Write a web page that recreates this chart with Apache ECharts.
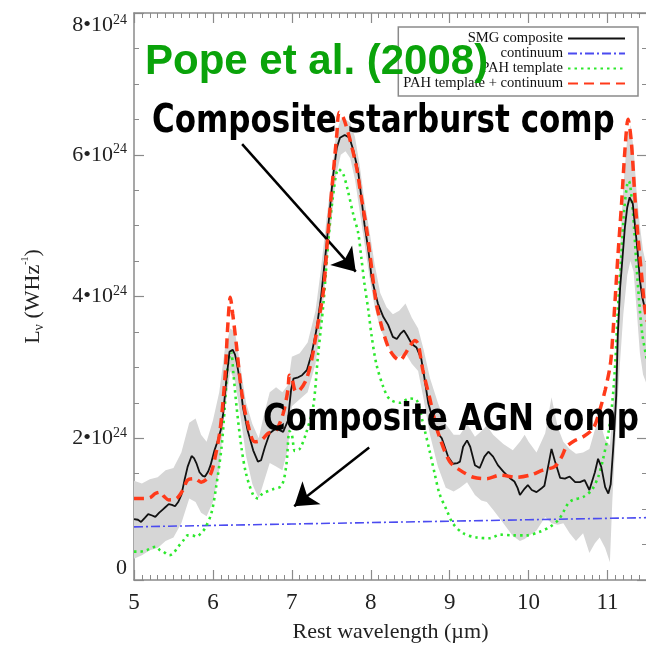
<!DOCTYPE html>
<html>
<head>
<meta charset="utf-8">
<script src="https://cdn.jsdelivr.net/npm/echarts@6/dist/echarts.min.js"></script>
<style>
  html, body { margin: 0; padding: 0; background: #fff; }
  #chart { width: 646px; height: 648px; }
</style>
</head>
<body>
<div id="chart"></div>
<script>
// Rest wavelength in µm; luminosity density L_nu in units of 10^24 W/Hz.

// SMG composite spectrum
const smgWave = [5.00, 5.05, 5.09, 5.14, 5.18, 5.23, 5.27, 5.32, 5.36, 5.40, 5.44, 5.48, 5.52, 5.56, 5.60, 5.64, 5.68, 5.73, 5.76, 5.79,
  5.83, 5.87, 5.90, 5.94, 5.97, 6.02, 6.06, 6.10, 6.13, 6.17, 6.21, 6.25, 6.28, 6.30, 6.34, 6.38, 6.44, 6.51, 6.57, 6.61,
  6.66, 6.72, 6.80, 6.89, 6.95, 6.99, 7.02, 7.08, 7.13, 7.19, 7.25, 7.31, 7.37, 7.44, 7.48, 7.52, 7.57, 7.61, 7.67, 7.73,
  7.78, 7.84, 7.88, 7.92, 7.97, 8.01, 8.05, 8.09, 8.16, 8.22, 8.28, 8.33, 8.38, 8.42, 8.46, 8.52, 8.58, 8.64, 8.68, 8.73,
  8.79, 8.85, 8.90, 8.98, 9.04, 9.10, 9.13, 9.17, 9.22, 9.26, 9.32, 9.38, 9.44, 9.49, 9.55, 9.61, 9.68, 9.76, 9.82, 9.86,
  9.89, 9.95, 9.99, 10.04, 10.10, 10.16, 10.20, 10.23, 10.29, 10.33, 10.40, 10.46, 10.52, 10.59, 10.65, 10.71, 10.77, 10.84, 10.88, 10.92,
  10.97, 11.01, 11.04, 11.07, 11.09, 11.11, 11.13, 11.16, 11.19, 11.22, 11.25, 11.28, 11.32, 11.35, 11.38, 11.41, 11.44, 11.47, 11.50];
const smgLum = [0.86, 0.85, 0.82, 0.88, 0.93, 0.91, 0.89, 0.95, 0.99, 1.03, 1.07, 1.06, 1.04, 1.10, 1.20, 1.41, 1.60, 1.75, 1.72, 1.65,
  1.52, 1.47, 1.46, 1.53, 1.62, 1.83, 1.96, 2.12, 2.35, 2.82, 3.22, 3.25, 3.18, 3.08, 2.82, 2.44, 2.11, 1.83, 1.67, 1.69,
  1.88, 2.07, 2.14, 2.09, 2.25, 2.68, 2.84, 2.86, 2.89, 2.96, 3.19, 3.52, 3.99, 4.74, 5.21, 5.68, 6.10, 6.24, 6.28, 6.24,
  6.06, 5.77, 5.40, 5.02, 4.65, 4.27, 4.08, 3.90, 3.71, 3.60, 3.43, 3.40, 3.48, 3.52, 3.45, 3.33, 3.28, 3.12, 2.85, 2.49,
  2.25, 2.07, 2.00, 1.74, 1.64, 1.65, 1.67, 1.88, 1.97, 1.88, 1.62, 1.58, 1.74, 1.81, 1.74, 1.62, 1.53, 1.44, 1.39, 1.30,
  1.20, 1.29, 1.34, 1.27, 1.24, 1.29, 1.33, 1.50, 1.85, 1.69, 1.44, 1.43, 1.46, 1.38, 1.38, 1.41, 1.27, 1.52, 1.71, 1.60,
  1.31, 1.22, 1.35, 1.83, 2.20, 2.60, 3.45, 4.13, 4.55, 4.98, 5.26, 5.40, 5.31, 4.98, 4.65, 4.23, 3.99, 3.85, 3.78];

// Uncertainty envelope of the composite
const bandWave = [5.00, 5.10, 5.20, 5.30, 5.40, 5.50, 5.60, 5.70, 5.78, 5.85, 5.92, 6.00, 6.08, 6.15, 6.22, 6.28, 6.35, 6.42, 6.50, 6.58,
  6.65, 6.72, 6.80, 6.88, 6.95, 7.00, 7.10, 7.20, 7.30, 7.37, 7.44, 7.50, 7.56, 7.62, 7.68, 7.74, 7.80, 7.86, 7.92, 7.98,
  8.05, 8.12, 8.20, 8.28, 8.36, 8.44, 8.52, 8.60, 8.67, 8.75, 8.85, 8.95, 9.05, 9.13, 9.22, 9.32, 9.40, 9.47, 9.55, 9.68,
  9.80, 9.89, 9.95, 10.00, 10.10, 10.21, 10.29, 10.37, 10.44, 10.52, 10.60, 10.69, 10.77, 10.84, 10.90, 10.97, 11.03, 11.06, 11.09, 11.12,
  11.16, 11.20, 11.25, 11.29, 11.33, 11.37, 11.41, 11.45, 11.50];
const bandLow = [0.30, 0.35, 0.42, 0.45, 0.55, 0.60, 0.80, 1.15, 1.10, 0.95, 0.90, 1.10, 1.55, 2.40, 2.95, 2.80, 2.30, 1.75, 1.35, 1.15,
  1.40, 1.65, 1.60, 1.55, 1.85, 2.45, 2.55, 2.65, 3.05, 3.60, 4.40, 5.05, 5.70, 6.00, 6.05, 5.95, 5.65, 5.20, 4.75, 4.30,
  3.85, 3.55, 3.35, 3.15, 3.15, 3.20, 3.05, 2.95, 2.55, 2.05, 1.60, 1.30, 1.25, 1.30, 1.38, 1.20, 1.12, 1.10, 0.99, 0.80,
  0.62, 0.55, 0.58, 0.62, 0.70, 0.89, 0.80, 0.78, 0.80, 0.66, 0.55, 0.66, 0.38, 0.52, 0.60, 0.45, 0.25, 1.10, 1.75, 2.40,
  3.10, 3.75, 4.30, 4.50, 4.35, 3.80, 3.20, 2.90, 2.75];
const bandHigh = [1.40, 1.36, 1.42, 1.45, 1.55, 1.58, 1.80, 2.22, 2.28, 2.05, 1.95, 2.25, 2.65, 3.25, 3.55, 3.50, 3.00, 2.50, 2.20, 2.00,
  2.35, 2.65, 2.72, 2.65, 2.75, 3.15, 3.20, 3.35, 3.80, 4.40, 5.10, 5.65, 6.30, 6.50, 6.50, 6.45, 6.25, 5.85, 5.35, 4.95,
  4.45, 4.05, 3.85, 3.75, 3.80, 3.90, 3.70, 3.55, 3.25, 2.85, 2.50, 2.20, 2.05, 2.05, 2.20, 2.02, 2.10, 2.18, 2.05, 1.92,
  1.83, 1.95, 2.05, 1.95, 1.80, 2.07, 2.58, 2.15, 1.95, 1.85, 1.78, 1.80, 1.85, 2.12, 2.25, 1.98, 1.90, 2.30, 2.80, 3.60,
  4.70, 5.55, 6.25, 6.42, 6.10, 5.45, 5.00, 4.65, 4.40];

// Continuum component
const contWave = [5.0, 6.0, 7.0, 8.0, 9.0, 10.0, 11.0, 11.5];
const contLum = [0.75, 0.77, 0.79, 0.81, 0.83, 0.85, 0.87, 0.88];

// PAH template
const pahWave = [5.00, 5.08, 5.16, 5.24, 5.28, 5.33, 5.37, 5.45, 5.50, 5.56, 5.62, 5.68, 5.74, 5.79, 5.85, 5.90, 5.98, 6.04, 6.11, 6.15,
  6.19, 6.23, 6.26, 6.30, 6.36, 6.42, 6.51, 6.57, 6.63, 6.76, 6.87, 6.93, 6.97, 7.00, 7.04, 7.10, 7.18, 7.27, 7.33, 7.40,
  7.46, 7.52, 7.59, 7.65, 7.71, 7.78, 7.84, 7.88, 7.92, 7.97, 8.01, 8.07, 8.16, 8.24, 8.37, 8.49, 8.58, 8.66, 8.75, 8.81,
  8.87, 8.96, 9.04, 9.17, 9.34, 9.51, 9.64, 9.80, 9.97, 10.14, 10.27, 10.38, 10.44, 10.50, 10.56, 10.69, 10.80, 10.88, 10.94, 11.01,
  11.06, 11.10, 11.13, 11.17, 11.21, 11.25, 11.27, 11.32, 11.36, 11.40, 11.44, 11.50];
const pahLum = [0.40, 0.40, 0.42, 0.46, 0.47, 0.42, 0.40, 0.35, 0.38, 0.47, 0.55, 0.63, 0.63, 0.61, 0.66, 0.73, 0.94, 1.31, 1.88, 2.44,
  3.05, 3.22, 2.91, 2.44, 1.88, 1.50, 1.20, 1.15, 1.22, 1.28, 1.33, 1.62, 2.10, 2.05, 1.82, 1.85, 2.07, 2.44, 3.15, 3.90,
  4.75, 5.40, 5.80, 5.73, 5.49, 5.15, 4.90, 4.55, 4.18, 3.80, 3.45, 3.05, 2.72, 2.55, 2.50, 2.56, 2.54, 2.22, 1.80, 1.50,
  1.22, 0.99, 0.80, 0.66, 0.60, 0.59, 0.64, 0.63, 0.63, 0.68, 0.75, 0.85, 0.96, 1.08, 1.13, 1.17, 1.27, 1.45, 1.69, 2.07,
  2.50, 3.10, 3.80, 4.51, 5.21, 5.59, 5.63, 5.21, 4.55, 3.94, 3.47, 3.10];

// PAH template + continuum
const sumWave = [5.00, 5.10, 5.20, 5.27, 5.33, 5.38, 5.44, 5.54, 5.62, 5.68, 5.77, 5.85, 5.93, 5.98, 6.02, 6.09, 6.15, 6.19, 6.22, 6.25,
  6.30, 6.36, 6.44, 6.53, 6.61, 6.70, 6.80, 6.89, 6.95, 6.97, 7.00, 7.05, 7.10, 7.18, 7.25, 7.32, 7.40, 7.46, 7.52, 7.57,
  7.60, 7.65, 7.73, 7.82, 7.88, 7.95, 8.01, 8.07, 8.14, 8.22, 8.30, 8.37, 8.43, 8.49, 8.56, 8.60, 8.66, 8.75, 8.81, 8.87,
  9.00, 9.13, 9.30, 9.47, 9.64, 9.85, 10.02, 10.18, 10.33, 10.42, 10.48, 10.59, 10.69, 10.82, 10.90, 10.97, 11.03, 11.05, 11.09, 11.13,
  11.18, 11.22, 11.26, 11.30, 11.35, 11.39, 11.43, 11.47, 11.50];
const sumLum = [1.15, 1.15, 1.16, 1.22, 1.24, 1.18, 1.13, 1.15, 1.27, 1.41, 1.43, 1.38, 1.43, 1.52, 1.69, 2.11, 2.82, 3.62, 3.99, 3.76,
  3.29, 2.68, 2.21, 1.95, 1.97, 2.07, 2.11, 2.35, 2.68, 2.89, 2.85, 2.66, 2.68, 2.82, 3.10, 3.55, 4.08, 4.93, 5.68, 6.29,
  6.60, 6.53, 6.24, 5.82, 5.40, 4.93, 4.41, 3.90, 3.57, 3.29, 3.15, 3.10, 3.18, 3.29, 3.38, 3.33, 2.96, 2.55, 2.25, 2.02,
  1.67, 1.55, 1.45, 1.43, 1.48, 1.45, 1.48, 1.55, 1.60, 1.74, 1.88, 1.97, 2.02, 2.14, 2.39, 2.68, 3.00, 3.19, 3.85, 4.55,
  5.35, 6.06, 6.50, 6.20, 5.35, 4.79, 4.32, 3.85, 3.65];

// Annotation arrows: [tail, head] in data coordinates
const starburstArrow = [[6.37, 6.15], [7.81, 4.35]];
const agnArrow = [[7.98, 1.87], [7.03, 1.04]];

const pairs = (xs, ys) => xs.map((x, i) => [x, ys[i]]);

const serif = '"Liberation Serif", "DejaVu Serif", serif';
const axisGray = '#8a8a8a';

const chart = echarts.init(document.getElementById('chart'), null, { renderer: 'canvas' });

const xCommon = {
  type: 'value', min: 5, max: 11.5, interval: 1,
  axisLine: { show: true, onZero: false, lineStyle: { color: axisGray, width: 1.5 } },
  axisTick: { show: true, inside: true, length: 10, lineStyle: { color: axisGray, width: 1.2 } },
  minorTick: { show: true, splitNumber: 10, length: 5, lineStyle: { color: axisGray, width: 1 } },
  splitLine: { show: false },
  minorSplitLine: { show: false }
};
const yCommon = {
  type: 'value', min: 0, max: 8, interval: 2,
  axisLine: { show: true, onZero: false, lineStyle: { color: axisGray, width: 1.5 } },
  axisTick: { show: true, inside: true, length: 10, lineStyle: { color: axisGray, width: 1.2 } },
  minorTick: { show: true, splitNumber: 4, length: 5, lineStyle: { color: axisGray, width: 1 } },
  splitLine: { show: false },
  minorSplitLine: { show: false }
};

const option = {
  animation: false,
  backgroundColor: '#fff',
  grid: { left: 134, right: -1, top: 13, bottom: 68, containLabel: false, outerBoundsMode: 'none' },
  xAxis: [
    Object.assign({}, xCommon, {
      position: 'bottom',
      name: 'Rest wavelength (µm)',
      nameLocation: 'middle',
      nameGap: 41,
      nameTextStyle: { fontFamily: serif, fontSize: 22, color: '#222' },
      axisLabel: { show: true, margin: 11, showMaxLabel: false, fontFamily: serif, fontSize: 23, color: '#222' }
    }),
    Object.assign({}, xCommon, { position: 'top', axisLabel: { show: false } })
  ],
  yAxis: [
    Object.assign({}, yCommon, {
      position: 'left',
      name: '{a|L}{sub|ν}{a| (WHz}{sup|-1}{a|)}',
      nameLocation: 'middle',
      nameRotate: 90,
      nameGap: 88,
      nameTextStyle: {
        rich: {
          a: { fontFamily: serif, fontSize: 22, color: '#222', lineHeight: 26 },
          sub: { fontFamily: serif, fontSize: 14, color: '#222', lineHeight: 26, verticalAlign: 'bottom' },
          sup: { fontFamily: serif, fontSize: 10, color: '#222', lineHeight: 26, verticalAlign: 'top' }
        }
      },
      axisLabel: {
        show: true,
        margin: 7,
        verticalAlignMaxLabel: 'top',
        verticalAlignMinLabel: 'bottom',
        formatter: v => v === 0 ? '{b|0}' : '{b|' + v + '•10}{s|24}',
        rich: {
          b: { fontFamily: serif, fontSize: 22, color: '#222', lineHeight: 24 },
          s: { fontFamily: serif, fontSize: 14, color: '#222', lineHeight: 24, verticalAlign: 'top' }
        }
      }
    }),
    Object.assign({}, yCommon, { position: 'right', axisLabel: { show: false } })
  ],
  legend: {
    data: ['SMG composite', 'continuum', 'PAH template', 'PAH template + continuum'],
    orient: 'vertical',
    right: 8,
    top: 27,
    align: 'right',
    itemWidth: 57,
    itemHeight: 12,
    itemGap: 0,
    padding: [4, 12, 5, 5],
    backgroundColor: '#fff',
    borderColor: '#8a8a8a',
    borderWidth: 1.5,
    selectedMode: false,
    itemStyle: { opacity: 0 },
    lineStyle: { width: 2 },
    textStyle: { fontFamily: serif, fontSize: 14.6, lineHeight: 13.5, color: '#111' }
  },
  graphic: [
    {
      type: 'text', x: 145, y: 62, z: 100,
      style: { text: 'Pope et al. (2008)', font: 'bold 42px "Liberation Sans", Arial, sans-serif', fill: '#0aa30a', verticalAlign: 'middle' }
    },
    {
      type: 'text', x: 152, y: 122, z: 100, scaleY: 1.25,
      style: { text: 'Composite starburst comp', font: 'bold 31px "DejaVu Sans", sans-serif', fill: '#000', verticalAlign: 'middle' }
    },
    {
      type: 'text', x: 263, y: 420, z: 100, scaleY: 1.2,
      style: { text: 'Composite AGN comp', font: 'bold 31px "DejaVu Sans", sans-serif', fill: '#000', verticalAlign: 'middle' }
    }
  ],
  series: [
    {
      name: 'uncertainty',
      type: 'custom',
      z: 1,
      silent: true,
      clip: true,
      data: bandWave.map((x, i) => [x, bandLow[i], bandHigh[i]]),
      encode: { x: 0, y: [1, 2] },
      renderItem: function (params, api) {
        if (params.dataIndex !== 0) return null;
        const pts = [];
        for (let i = 0; i < bandWave.length; i++) pts.push(api.coord([bandWave[i], bandHigh[i]]));
        for (let i = bandWave.length - 1; i >= 0; i--) pts.push(api.coord([bandWave[i], bandLow[i]]));
        return { type: 'polygon', shape: { points: pts }, style: { fill: '#d6d6d6' } };
      }
    },
    {
      name: 'continuum',
      type: 'line',
      z: 2,
      data: pairs(contWave, contLum),
      symbol: 'none',
      color: '#4b4bf0',
      lineStyle: { color: '#4b4bf0', width: 1.6, type: [9, 3, 2, 3] }
    },
    {
      name: 'PAH template',
      type: 'line',
      z: 3,
      data: pairs(pahWave, pahLum),
      symbol: 'none',
      smooth: 0.3,
      color: '#2de82d',
      lineStyle: { color: '#2de82d', width: 2.6, type: [2.5, 4] }
    },
    {
      name: 'SMG composite',
      type: 'line',
      z: 4,
      data: pairs(smgWave, smgLum),
      symbol: 'none',
      color: '#111',
      lineStyle: { color: '#111', width: 1.8 },
      markLine: {
        silent: true,
        symbol: ['none', 'arrow'],
        symbolSize: 22,
        label: { show: false },
        lineStyle: { color: '#000', width: 2.5, type: 'solid' },
        emphasis: { disabled: true },
        data: [
          [{ coord: starburstArrow[0] }, { coord: starburstArrow[1] }],
          [{ coord: agnArrow[0] }, { coord: agnArrow[1] }]
        ]
      }
    },
    {
      name: 'PAH template + continuum',
      type: 'line',
      z: 5,
      data: pairs(sumWave, sumLum),
      symbol: 'none',
      smooth: 0.3,
      color: '#ff3a1a',
      lineStyle: { color: '#ff3a1a', width: 3.5, type: [10, 6] }
    }
  ]
};

chart.setOption(option);
</script>
</body>
</html>
